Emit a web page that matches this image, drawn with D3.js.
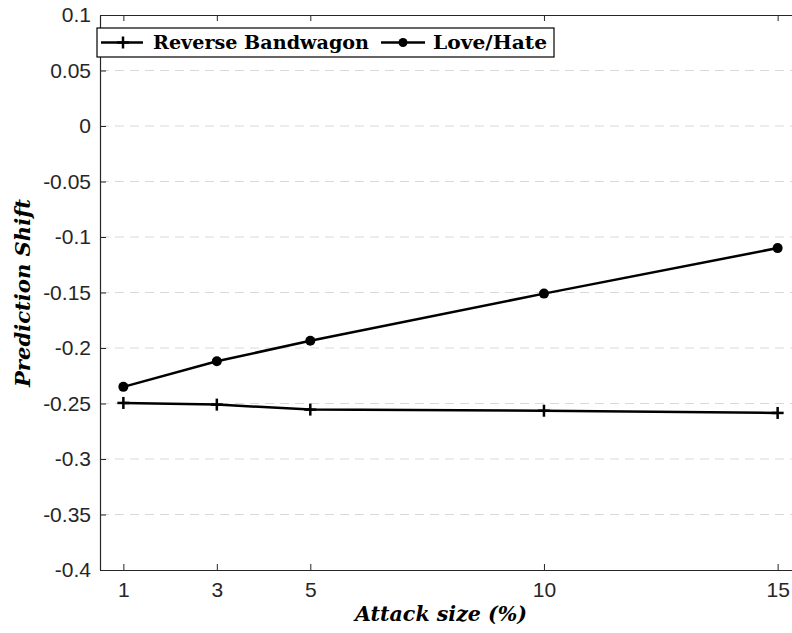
<!DOCTYPE html>
<html>
<head>
<script src="https://cdn.jsdelivr.net/npm/d3@7/dist/d3.min.js"></script>
<style>
  body { margin: 0; background: #fff; }
  .axis text { font-family: "Liberation Sans", Arial, sans-serif; font-size: 21px; fill: #262626; }
</style>
</head>
<body>
<script>
var width = 792, height = 633;
var plotLeft = 100, plotRight = 801, plotTop = 15, plotBottom = 570;

// data
var attackSize = [1, 3, 5, 10, 15];
var reverseBandwagon = [-0.2495, -0.251, -0.2555, -0.2565, -0.2585];
var loveHate = [-0.235, -0.212, -0.1935, -0.151, -0.110];
var yTicks = [0.1, 0.05, 0, -0.05, -0.1, -0.15, -0.2, -0.25, -0.3, -0.35, -0.4];
var yTickLabels = ["0.1", "0.05", "0", "-0.05", "-0.1", "-0.15", "-0.2", "-0.25", "-0.3", "-0.35", "-0.4"];

var svg = d3.select("body").append("svg")
    .attr("width", width)
    .attr("height", height);

var x = d3.scaleLinear().domain([0.5, 15.5]).range([plotLeft, plotRight]);
var y = d3.scaleLinear().domain([-0.4, 0.1]).range([plotBottom, plotTop]);

// grid
svg.append("g").selectAll("line")
    .data(yTicks.slice(1, -1))
    .enter().append("line")
    .attr("x1", plotLeft).attr("x2", plotRight)
    .attr("y1", function(d) { return y(d); })
    .attr("y2", function(d) { return y(d); })
    .attr("stroke", "#d9d9d9")
    .attr("stroke-width", 1)
    .attr("stroke-dasharray", "9,6");

// axes
var xAxis = svg.append("g").attr("class", "axis")
    .attr("transform", "translate(0," + plotBottom + ")")
    .call(d3.axisBottom(x).tickValues(attackSize).tickSizeInner(-6).tickSizeOuter(0).tickPadding(12));
var xTop = svg.append("g").attr("class", "axis")
    .attr("transform", "translate(0," + plotTop + ")")
    .call(d3.axisTop(x).tickValues(attackSize).tickSizeInner(-6).tickSizeOuter(0).tickFormat(""));
var yAxis = svg.append("g").attr("class", "axis")
    .attr("transform", "translate(" + plotLeft + ",0)")
    .call(d3.axisLeft(y).tickValues(yTicks).tickSizeInner(-6).tickSizeOuter(0).tickPadding(9)
        .tickFormat(function(d, i) { return yTickLabels[i]; }));

[xAxis, xTop, yAxis].forEach(function(a) {
    a.attr("font-size", 21).attr("font-family", "'Liberation Sans', Arial, sans-serif");
    a.select(".domain").attr("stroke", "#262626").attr("stroke-width", 1.2);
    a.selectAll(".tick line").attr("stroke", "#262626");
    a.selectAll(".tick text").attr("fill", "#262626").attr("font-size", 21);
});

// series
var line = d3.line()
    .x(function(d) { return x(d[0]); })
    .y(function(d) { return y(d[1]); });

var rbData = d3.zip(attackSize, reverseBandwagon);
var lhData = d3.zip(attackSize, loveHate);

svg.append("path").datum(rbData)
    .attr("d", line).attr("fill", "none")
    .attr("stroke", "#000").attr("stroke-width", 2.5);
svg.append("path").datum(lhData)
    .attr("d", line).attr("fill", "none")
    .attr("stroke", "#000").attr("stroke-width", 2.5);

function plus(g, cx, cy) {
    g.append("line").attr("x1", cx - 6).attr("x2", cx + 6).attr("y1", cy).attr("y2", cy)
        .attr("stroke", "#000").attr("stroke-width", 2.5);
    g.append("line").attr("x1", cx).attr("x2", cx).attr("y1", cy - 6).attr("y2", cy + 6)
        .attr("stroke", "#000").attr("stroke-width", 2.5);
}

var marks = svg.append("g");
rbData.forEach(function(d) { plus(marks, x(d[0]), y(d[1])); });
marks.selectAll("circle")
    .data(lhData)
    .enter().append("circle")
    .attr("cx", function(d) { return x(d[0]); })
    .attr("cy", function(d) { return y(d[1]); })
    .attr("r", 5)
    .attr("fill", "#000");

// legend
var serif = "'DejaVu Serif', 'Liberation Serif', serif";
var leg = svg.append("g");
leg.append("rect")
    .attr("x", 97).attr("y", 28).attr("width", 457).attr("height", 29)
    .attr("fill", "#fff").attr("stroke", "#000").attr("stroke-width", 1.2);
leg.append("line").attr("x1", 101).attr("x2", 143).attr("y1", 42.5).attr("y2", 42.5)
    .attr("stroke", "#000").attr("stroke-width", 2.5);
plus(leg, 123, 42.5);
leg.append("text").attr("x", 153).attr("y", 49)
    .attr("textLength", 216).attr("lengthAdjust", "spacingAndGlyphs")
    .style("font-family", serif).style("font-weight", "bold").style("font-size", "18px")
    .text("Reverse Bandwagon");
leg.append("line").attr("x1", 381).attr("x2", 425).attr("y1", 42.5).attr("y2", 42.5)
    .attr("stroke", "#000").attr("stroke-width", 2.5);
leg.append("circle").attr("cx", 403).attr("cy", 42.5).attr("r", 4.5).attr("fill", "#000");
leg.append("text").attr("x", 433).attr("y", 49)
    .attr("textLength", 114).attr("lengthAdjust", "spacingAndGlyphs")
    .style("font-family", serif).style("font-weight", "bold").style("font-size", "18px")
    .text("Love/Hate");

// axis titles
svg.append("text")
    .attr("x", 441).attr("y", 621)
    .attr("text-anchor", "middle")
    .attr("textLength", 172).attr("lengthAdjust", "spacingAndGlyphs")
    .style("font-family", serif).style("font-style", "italic").style("font-weight", "bold")
    .style("font-size", "21px")
    .text("Attack size (%)");
svg.append("text")
    .attr("transform", "translate(30,293) rotate(-90)")
    .attr("text-anchor", "middle")
    .attr("textLength", 188).attr("lengthAdjust", "spacingAndGlyphs")
    .style("font-family", serif).style("font-style", "italic").style("font-weight", "bold")
    .style("font-size", "21px")
    .text("Prediction Shift");
</script>
</body>
</html>
